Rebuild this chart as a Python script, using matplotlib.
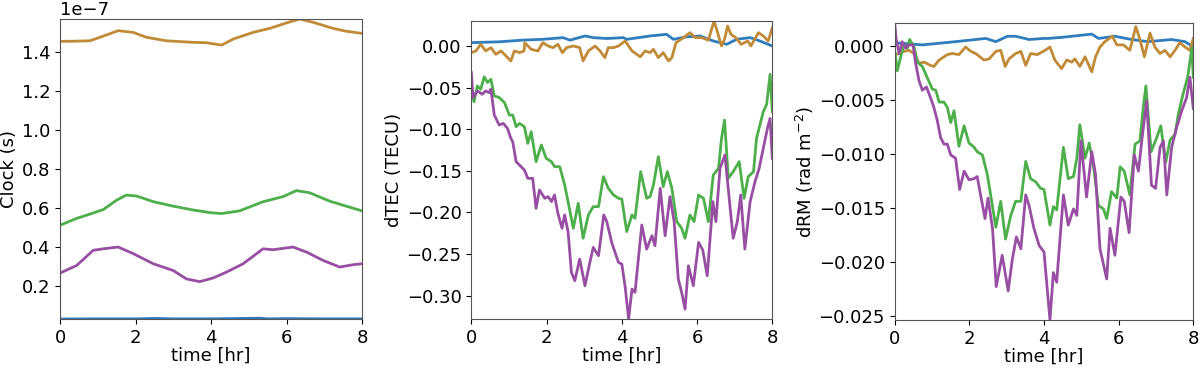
import matplotlib
matplotlib.use("Agg")
import matplotlib.pyplot as plt
import numpy as np

out_png = "out.png"

c_blue = "#2f7dbd"
c_orange = "#c08a36"
c_green = "#4daf4a"
c_purple = "#984ea3"

# clock panel, values in units of 1e-7 s, (time [hr], value)
clk_blue = [(0, 0.030), (1.0, 0.031), (2.0, 0.031), (2.5, 0.033), (3.0, 0.031),
            (4.0, 0.031), (5.3, 0.034), (5.5, 0.031), (6.0, 0.032), (7.0, 0.031), (8.0, 0.031)]
clk_orange = [(0, 1.457), (0.40, 1.458), (0.79, 1.460), (1.06, 1.478), (1.54, 1.512), (1.94, 1.503),
              (2.29, 1.478), (2.82, 1.460), (3.53, 1.452), (3.88, 1.450), (4.28, 1.438), (4.59, 1.469),
              (5.11, 1.503), (5.56, 1.524), (6.00, 1.552), (6.35, 1.572), (6.70, 1.555), (7.23, 1.524),
              (7.58, 1.509), (8.00, 1.498)]
clk_green = [(0, 0.512), (0.44, 0.547), (0.79, 0.569), (1.15, 0.593), (1.50, 0.641), (1.76, 0.667),
             (2.03, 0.662), (2.47, 0.633), (3.00, 0.610), (3.53, 0.590), (4.01, 0.576), (4.28, 0.572),
             (4.76, 0.586), (5.38, 0.633), (5.91, 0.659), (6.26, 0.690), (6.61, 0.679), (7.14, 0.636),
             (7.58, 0.610), (8.00, 0.586)]
clk_purple = [(0, 0.266), (0.44, 0.305), (0.88, 0.383), (1.15, 0.391), (1.54, 0.400), (1.94, 0.366),
              (2.47, 0.314), (3.00, 0.279), (3.35, 0.236), (3.70, 0.222), (4.06, 0.241), (4.41, 0.271),
              (4.85, 0.314), (5.38, 0.391), (5.64, 0.386), (6.17, 0.400), (6.53, 0.374), (6.97, 0.331),
              (7.41, 0.297), (7.76, 0.309), (8.00, 0.314)]

# dTEC panel (TECU)
tec_blue = [(0, 0.004), (0.74, 0.005), (1.36, 0.007), (1.90, 0.008), (2.44, 0.010), (2.62, 0.007),
            (3.02, 0.012), (3.24, 0.010), (3.60, 0.009), (4.04, 0.010), (4.13, 0.008), (4.75, 0.012),
            (5.19, 0.014), (5.37, 0.008), (5.73, 0.011), (6.08, 0.012), (6.43, 0.006), (6.79, 0.002),
            (7.05, 0.008), (7.41, 0.010), (7.67, 0.006), (8.00, 0.000)]
tec_orange = [(0, -0.008), (0.12, -0.006), (0.25, 0.002), (0.38, -0.006), (0.52, -0.002), (0.65, -0.010),
              (0.79, -0.006), (0.92, -0.012), (1.05, -0.018), (1.14, -0.006), (1.28, -0.008), (1.40, -0.006),
              (1.42, 0.004), (1.59, -0.004), (1.77, -0.006), (1.90, 0.004), (2.04, 0.000), (2.17, -0.002),
              (2.30, 0.002), (2.42, -0.008), (2.53, -0.002), (2.71, 0.000), (2.88, -0.002), (2.97, -0.018),
              (3.11, -0.006), (3.29, 0.000), (3.42, -0.006), (3.55, -0.014), (3.64, -0.002), (3.78, -0.002),
              (3.91, 0.000), (4.09, 0.006), (4.27, -0.006), (4.49, -0.013), (4.62, -0.006), (4.75, -0.008),
              (4.84, -0.004), (4.97, -0.014), (5.10, -0.008), (5.24, -0.018), (5.33, -0.014), (5.44, 0.004),
              (5.64, 0.010), (5.81, 0.016), (5.95, 0.010), (6.12, 0.010), (6.30, 0.007), (6.45, 0.030),
              (6.52, 0.020), (6.65, 0.000), (6.73, 0.008), (6.81, 0.024), (6.90, 0.014), (7.03, 0.010),
              (7.17, 0.002), (7.35, 0.006), (7.43, 0.000), (7.63, 0.016), (7.76, 0.012), (7.89, 0.006),
              (8.00, 0.022)]
tec_green = [(0, -0.050), (0.07, -0.067), (0.16, -0.048), (0.25, -0.052), (0.34, -0.037), (0.43, -0.044),
             (0.52, -0.040), (0.61, -0.060), (0.74, -0.062), (0.88, -0.068), (1.01, -0.083), (1.10, -0.083),
             (1.19, -0.097), (1.28, -0.093), (1.41, -0.097), (1.50, -0.117), (1.59, -0.103), (1.72, -0.139),
             (1.86, -0.119), (1.99, -0.135), (2.13, -0.139), (2.21, -0.145), (2.35, -0.145), (2.48, -0.167),
             (2.57, -0.187), (2.71, -0.219), (2.84, -0.189), (2.97, -0.231), (3.11, -0.203), (3.24, -0.193),
             (3.38, -0.193), (3.51, -0.157), (3.64, -0.171), (3.78, -0.179), (3.91, -0.183), (4.00, -0.184),
             (4.13, -0.223), (4.27, -0.203), (4.35, -0.207), (4.50, -0.151), (4.66, -0.183), (4.75, -0.181),
             (4.84, -0.167), (4.97, -0.133), (5.10, -0.169), (5.21, -0.151), (5.33, -0.171), (5.46, -0.211),
             (5.59, -0.219), (5.68, -0.231), (5.81, -0.203), (5.92, -0.211), (6.04, -0.179), (6.17, -0.183),
             (6.30, -0.211), (6.43, -0.155), (6.57, -0.147), (6.65, -0.111), (6.73, -0.089), (6.83, -0.159),
             (6.96, -0.151), (7.12, -0.139), (7.25, -0.183), (7.36, -0.157), (7.50, -0.151), (7.58, -0.111),
             (7.76, -0.079), (7.85, -0.070), (7.94, -0.034), (8.00, -0.079)]
tec_purple = [(0, -0.032), (0.045, -0.062), (0.16, -0.054), (0.29, -0.058), (0.38, -0.054), (0.47, -0.056),
              (0.52, -0.052), (0.61, -0.083), (0.74, -0.095), (0.85, -0.093), (0.96, -0.099), (1.05, -0.111),
              (1.10, -0.115), (1.19, -0.139), (1.32, -0.145), (1.41, -0.149), (1.50, -0.159), (1.63, -0.159),
              (1.72, -0.195), (1.81, -0.173), (1.95, -0.183), (2.04, -0.181), (2.13, -0.187), (2.21, -0.179),
              (2.30, -0.201), (2.41, -0.219), (2.48, -0.203), (2.57, -0.223), (2.66, -0.272), (2.75, -0.282),
              (2.88, -0.256), (3.02, -0.288), (3.15, -0.260), (3.24, -0.242), (3.38, -0.252), (3.52, -0.203),
              (3.60, -0.211), (3.73, -0.236), (3.91, -0.260), (4.00, -0.262), (4.09, -0.290), (4.18, -0.328),
              (4.27, -0.292), (4.35, -0.296), (4.53, -0.215), (4.66, -0.244), (4.80, -0.228), (4.88, -0.240),
              (5.02, -0.171), (5.15, -0.228), (5.28, -0.181), (5.39, -0.211), (5.50, -0.280), (5.59, -0.296),
              (5.68, -0.316), (5.77, -0.264), (5.90, -0.288), (6.04, -0.236), (6.15, -0.245), (6.27, -0.276),
              (6.42, -0.187), (6.50, -0.211), (6.61, -0.147), (6.74, -0.131), (6.88, -0.195), (6.96, -0.231),
              (7.07, -0.211), (7.16, -0.179), (7.27, -0.244), (7.41, -0.187), (7.54, -0.163), (7.65, -0.147),
              (7.76, -0.123), (7.87, -0.099), (7.94, -0.087), (8.00, -0.135)]

# dRM panel (rad m^-2)
rm_blue = [(0, 0.0003), (0.74, 0.0001), (1.63, 0.0004), (2.44, 0.0007), (2.71, 0.0004), (3.02, 0.0009),
           (3.24, 0.0009), (3.60, 0.0006), (4.00, 0.0007), (4.12, 0.0007), (4.48, 0.0008), (5.01, 0.0010),
           (5.28, 0.0011), (5.46, 0.0007), (5.90, 0.0009), (6.35, 0.0006), (6.79, 0.0004), (7.42, 0.0006),
           (7.78, 0.0004), (8.00, -0.0001)]
rm_orange = [(0, -0.0008), (0.12, -0.0007), (0.25, -0.0005), (0.38, -0.0004), (0.52, -0.0007), (0.65, -0.0016),
             (0.79, -0.0015), (0.96, -0.0018), (1.05, -0.0019), (1.19, -0.0013), (1.41, -0.0008), (1.54, -0.0007),
             (1.72, -0.0008), (1.90, -0.0001), (2.04, -0.0005), (2.17, -0.0007), (2.39, -0.0013), (2.53, -0.0012),
             (2.71, -0.0005), (2.84, -0.0004), (2.96, -0.0019), (3.06, -0.0012), (3.24, -0.0007), (3.38, -0.0005),
             (3.51, -0.0018), (3.64, -0.0007), (3.82, -0.0008), (4.03, -0.0004), (4.16, -0.0001), (4.29, -0.0013),
             (4.47, -0.0021), (4.61, -0.0013), (4.74, -0.0015), (4.83, -0.0012), (4.96, -0.0019), (5.10, -0.0010),
             (5.28, -0.0024), (5.38, -0.0010), (5.50, -0.0001), (5.63, 0.0004), (5.83, 0.0009), (5.95, 0.0001),
             (6.13, 0.0001), (6.30, -0.0004), (6.46, 0.0018), (6.57, 0.0006), (6.69, -0.0010), (6.84, 0.0012),
             (6.97, -0.0001), (7.11, -0.0007), (7.24, -0.0004), (7.38, -0.0010), (7.51, -0.0004), (7.64, 0.0003),
             (7.78, -0.0001), (7.91, -0.0004), (8.00, 0.0007)]
rm_green = [(0, -0.0004), (0.07, -0.0023), (0.16, -0.0010), (0.25, 0.0001), (0.34, -0.0002), (0.40, 0.0006),
            (0.52, -0.0001), (0.61, -0.0015), (0.74, -0.0019), (0.88, -0.0030), (1.01, -0.0040), (1.10, -0.0041),
            (1.19, -0.0052), (1.32, -0.0052), (1.41, -0.0057), (1.50, -0.0071), (1.59, -0.0060), (1.72, -0.0093),
            (1.86, -0.0074), (1.99, -0.0090), (2.13, -0.0094), (2.21, -0.0098), (2.35, -0.0101), (2.48, -0.0119),
            (2.57, -0.0138), (2.71, -0.0168), (2.84, -0.0144), (2.97, -0.0179), (3.11, -0.0157), (3.24, -0.0144),
            (3.38, -0.0144), (3.51, -0.0107), (3.64, -0.0123), (3.78, -0.0126), (3.91, -0.0132), (4.00, -0.0133),
            (4.16, -0.0166), (4.25, -0.0149), (4.34, -0.0152), (4.52, -0.0094), (4.65, -0.0123), (4.79, -0.0121),
            (4.88, -0.0104), (4.96, -0.0073), (5.10, -0.0104), (5.21, -0.0090), (5.32, -0.0110), (5.46, -0.0148),
            (5.59, -0.0151), (5.68, -0.0160), (5.81, -0.0135), (5.95, -0.0141), (6.04, -0.0112), (6.15, -0.0116),
            (6.30, -0.0138), (6.44, -0.0091), (6.57, -0.0088), (6.66, -0.0057), (6.73, -0.0037), (6.87, -0.0098),
            (7.02, -0.0085), (7.13, -0.0074), (7.26, -0.0108), (7.38, -0.0087), (7.51, -0.0082), (7.60, -0.0063),
            (7.73, -0.0044), (7.85, -0.0029), (7.96, -0.0002), (8.00, -0.0029)]
rm_purple = [(0, 0.0021), (0.04, 0.0006), (0.12, -0.0007), (0.20, 0.0004), (0.29, -0.0002), (0.38, 0.0001),
             (0.49, 0.0001), (0.56, -0.0016), (0.65, -0.0032), (0.74, -0.0041), (0.85, -0.0038), (0.96, -0.0048),
             (1.05, -0.0057), (1.14, -0.0069), (1.23, -0.0085), (1.32, -0.0091), (1.41, -0.0091), (1.50, -0.0101),
             (1.63, -0.0104), (1.74, -0.0133), (1.86, -0.0116), (1.99, -0.0124), (2.13, -0.0123), (2.21, -0.0121),
             (2.30, -0.0138), (2.42, -0.0160), (2.50, -0.0141), (2.62, -0.0169), (2.72, -0.0223), (2.88, -0.0194),
             (3.04, -0.0227), (3.15, -0.0198), (3.26, -0.0177), (3.38, -0.0188), (3.51, -0.0138), (3.60, -0.0148),
             (3.73, -0.0169), (3.87, -0.0185), (4.00, -0.0191), (4.16, -0.0254), (4.25, -0.0210), (4.34, -0.0219),
             (4.52, -0.0138), (4.65, -0.0166), (4.79, -0.0151), (4.88, -0.0157), (4.99, -0.0088), (5.14, -0.0140),
             (5.28, -0.0098), (5.38, -0.0119), (5.50, -0.0188), (5.68, -0.0216), (5.77, -0.0169), (5.90, -0.0194),
             (6.06, -0.0140), (6.15, -0.0144), (6.28, -0.0173), (6.42, -0.0101), (6.53, -0.0116), (6.64, -0.0082),
             (6.75, -0.0051), (6.88, -0.0129), (6.99, -0.0132), (7.11, -0.0094), (7.20, -0.0088), (7.29, -0.0138),
             (7.42, -0.0094), (7.55, -0.0076), (7.69, -0.0060), (7.82, -0.0048), (7.91, -0.0029), (8.00, -0.0058)]

clk_yticks = [0.2e-7, 0.4e-7, 0.6e-7, 0.8e-7, 1.0e-7, 1.2e-7, 1.4e-7]
tec_yticks = [0.0, -0.05, -0.10, -0.15, -0.20, -0.25, -0.30]
rm_yticks = [0.0, -0.005, -0.010, -0.015, -0.020, -0.025]

panels = [
    ("Clock (s)", 1e-7, clk_yticks,
     [(clk_blue, c_blue), (clk_orange, c_orange), (clk_green, c_green), (clk_purple, c_purple)]),
    ("dTEC (TECU)", 1.0, tec_yticks,
     [(tec_blue, c_blue), (tec_orange, c_orange), (tec_green, c_green), (tec_purple, c_purple)]),
    ("dRM (rad m$^{-2}$)", 1.0, rm_yticks,
     [(rm_blue, c_blue), (rm_orange, c_orange), (rm_green, c_green), (rm_purple, c_purple)]),
]

plt.rcParams["font.size"] = 13

fig = plt.figure(figsize=(12, 3.69), dpi=100)
boxes = [
    [0.050, 0.1355, 0.2517, 0.813],
    [0.3928, 0.1355, 0.2508, 0.8076],
    [0.7456, 0.1328, 0.2488, 0.804],
]
label_x = [-0.139, -0.227, -0.264]

for (ylabel, scale, yticks, series), box, lx in zip(panels, boxes, label_x):
    ax = fig.add_axes(box)
    lo, hi = np.inf, -np.inf
    for pts, col in series:
        arr = np.array(pts)
        y = arr[:, 1] * scale
        ax.plot(arr[:, 0], y, color=col, lw=2.0)
        lo = min(lo, y.min())
        hi = max(hi, y.max())
    ax.set_xlim(0, 8)
    ax.set_ylim(lo, hi)
    ax.set_xticks([0, 2, 4, 6, 8])
    ax.set_yticks(yticks)
    ax.tick_params(labelsize=13)
    ax.set_xlabel("time [hr]", labelpad=0)
    ax.set_ylabel(ylabel)
    ax.yaxis.set_label_coords(lx, 0.5)
    for s in ax.spines.values():
        s.set_edgecolor("#555555")

fig.savefig(out_png, dpi=100)
plt.close(fig)
print(out_png)
